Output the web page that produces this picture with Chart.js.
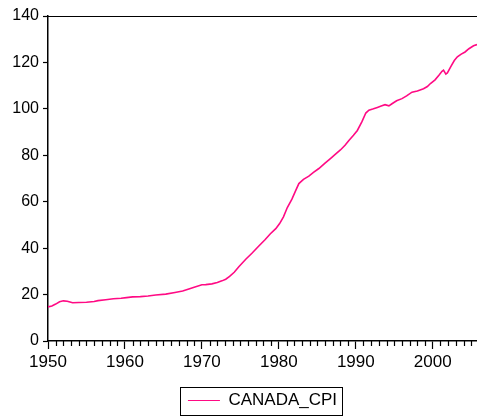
<!DOCTYPE html>
<html>
<head>
<meta charset="utf-8">
<script src="https://cdn.jsdelivr.net/npm/chart.js@4/dist/chart.umd.min.js"></script>
<style>
  html, body { margin: 0; padding: 0; background: #fff; }
  #wrap { width: 477px; height: 416px; position: relative; }
</style>
</head>
<body>
<div id="wrap"><canvas id="c" width="477" height="416"></canvas></div>
<script>
// ---- data (year, CANADA_CPI) ----
const seriesName = "CANADA_CPI";
const years = [
  1950.0, 1950.5, 1951.0, 1951.5, 1952.0, 1952.5, 1953.2, 1954.0, 1955.0, 1956.0,
  1956.5, 1957.5, 1958.5, 1959.5, 1960.2, 1961.0, 1962.0, 1963.0, 1964.0, 1965.3,
  1966.5, 1967.5, 1968.3, 1969.0, 1970.0, 1970.5, 1971.3, 1972.0, 1972.6, 1973.1,
  1973.6, 1974.2, 1974.8, 1975.7, 1976.5, 1977.4, 1978.2, 1978.9, 1979.6, 1980.1,
  1980.6, 1981.1, 1981.7, 1982.2, 1982.6, 1983.2, 1983.9, 1984.5, 1985.2, 1986.0,
  1986.7, 1987.4, 1988.0, 1988.6, 1989.1, 1989.7, 1990.2, 1990.8, 1991.3, 1991.7,
  1992.2, 1992.8, 1993.3, 1993.8, 1994.3, 1994.7, 1995.3, 1996.0, 1996.6, 1997.3,
  1998.0, 1998.8, 1999.3, 1999.7, 2000.3, 2000.8, 2001.2, 2001.4, 2001.7, 2001.9,
  2002.4, 2002.8, 2003.2, 2003.7, 2004.2, 2004.7, 2005.3, 2005.75
];
const cpi = [
  14.7, 15.1, 15.9, 16.9, 17.3, 17.1, 16.5, 16.6, 16.7, 17.0,
  17.4, 17.8, 18.2, 18.4, 18.7, 19.0, 19.1, 19.4, 19.8, 20.2,
  20.9, 21.5, 22.4, 23.2, 24.2, 24.3, 24.6, 25.2, 25.9, 26.6,
  27.8, 29.6, 32.0, 35.2, 37.8, 40.9, 43.6, 46.2, 48.4, 50.6,
  53.5, 57.5, 61.1, 64.9, 67.8, 69.6, 71.0, 72.6, 74.3, 76.6,
  78.6, 80.6, 82.3, 84.3, 86.4, 88.6, 90.7, 94.5, 98.2, 99.4,
  99.9, 100.6, 101.2, 101.8, 101.3, 102.2, 103.5, 104.4, 105.6, 107.2,
  107.7, 108.7, 109.6, 110.9, 112.5, 114.5, 116.2, 116.7, 115.0, 115.5,
  118.5, 120.8, 122.4, 123.6, 124.5, 125.9, 127.2, 127.7
];
const xMajorTicks = [1950, 1960, 1970, 1980, 1990, 2000];
const yTicks = [0, 20, 40, 60, 80, 100, 120, 140];
const xMin = 1950, xMax = 2005.75;

const points = years.map((x, i) => ({ x: x, y: cpi[i] }));

const FONT = "'Liberation Sans', Arial, sans-serif";
const LINE_COLOR = '#ff0a84';

const framePlugin = {
  id: 'frame',
  afterDraw(chart) {
    const { ctx, chartArea: a, scales } = chart;
    const xs = scales.x;
    ctx.save();
    // top border
    ctx.strokeStyle = '#000';
    ctx.lineWidth = 1.2;
    ctx.beginPath();
    ctx.moveTo(a.left, a.top + 0.5);
    ctx.lineTo(a.right, a.top + 0.5);
    ctx.stroke();
    // minor yearly ticks
    ctx.strokeStyle = '#000';
    ctx.lineWidth = 1.2;
    ctx.beginPath();
    for (let yr = Math.ceil(xMin); yr <= xMax; yr++) {
      if (yr % 10 === 0) continue;
      const px = Math.round(xs.getPixelForValue(yr)) + 0.5;
      ctx.moveTo(px, a.bottom);
      ctx.lineTo(px, a.bottom + 5);
    }
    ctx.stroke();
    // legend border
    const lg = chart.legend;
    if (lg && lg.legendHitBoxes && lg.legendHitBoxes.length) {
      const hb = lg.legendHitBoxes[0];
      const cy = hb.top + hb.height / 2;
      const l = hb.left - 8, r = hb.left + hb.width + 5;
      ctx.strokeStyle = '#000';
      ctx.lineWidth = 1;
      ctx.strokeRect(Math.round(l) + 0.5, Math.round(cy - 14) + 0.5, Math.round(r - l), 28);
    }
    ctx.restore();
  }
};

new Chart(document.getElementById('c'), {
  type: 'line',
  data: {
    datasets: [{
      label: seriesName,
      data: points,
      borderColor: LINE_COLOR,
      backgroundColor: LINE_COLOR,
      borderWidth: 1.6,
      pointRadius: 0,
      tension: 0,
      fill: false
    }]
  },
  options: {
    responsive: false,
    animation: false,
    layout: { padding: { top: 16, right: 0, left: 0, bottom: -3 } },
    scales: {
      x: {
        type: 'linear',
        min: xMin,
        max: xMax,
        afterBuildTicks: s => { s.ticks = xMajorTicks.map(v => ({ value: v })); },
        afterFit: s => { s.height = 41; },
        ticks: {
          color: '#000',
          font: { family: FONT, size: 17 },
          padding: 3,
          maxRotation: 0,
          autoSkip: false,
          callback: v => String(v)
        },
        grid: { drawOnChartArea: false, drawTicks: true, tickLength: 8, color: '#000', tickWidth: 1.2 },
        border: { display: true, color: '#000', width: 1.5 }
      },
      y: {
        min: 0,
        max: 140,
        afterBuildTicks: s => { s.ticks = yTicks.map(v => ({ value: v })); },
        afterFit: s => { s.width = 48; },
        ticks: {
          color: '#000',
          font: { family: FONT, size: 16 },
          padding: 4
        },
        grid: { drawOnChartArea: false, drawTicks: true, tickLength: 5, color: '#000', tickWidth: 1.2 },
        border: { display: true, color: '#000', width: 1.5 }
      }
    },
    plugins: {
      tooltip: { enabled: false },
      legend: {
        display: true,
        position: 'bottom',
        fullSize: false,
        labels: {
          color: '#000',
          font: { family: FONT, size: 17 },
          boxWidth: 32,
          boxHeight: 1,
          padding: 10,
          generateLabels: chart => chart.data.datasets.map((ds, i) => ({
            text: ds.label,
            fillStyle: ds.borderColor,
            strokeStyle: ds.borderColor,
            lineWidth: 0,
            datasetIndex: i
          }))
        }
      }
    }
  },
  plugins: [framePlugin]
});
</script>
</body>
</html>
